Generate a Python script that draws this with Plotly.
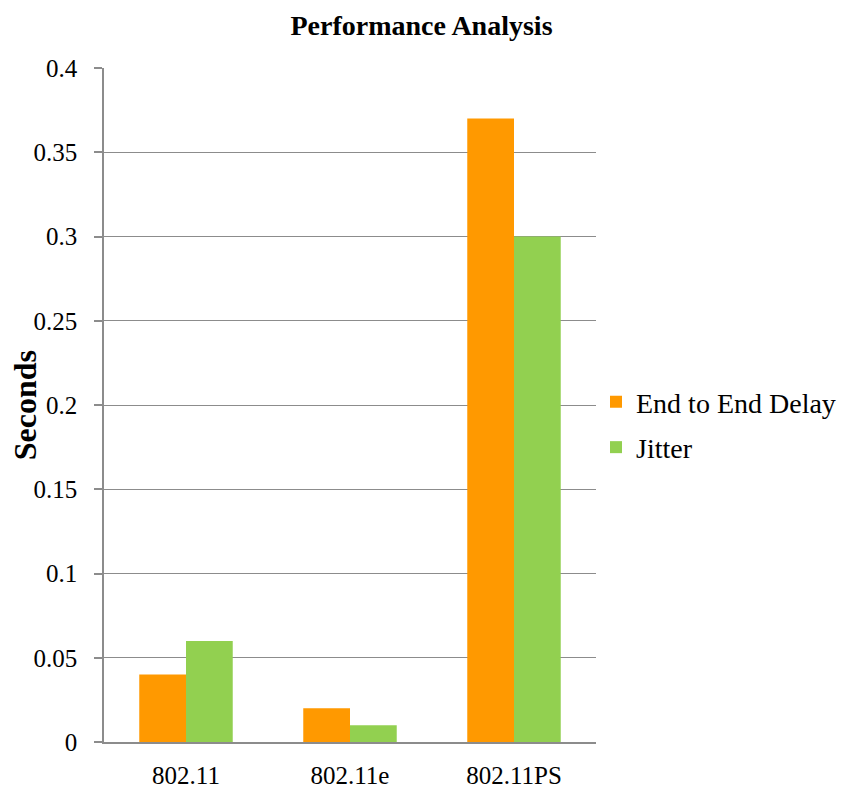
import plotly.graph_objects as go

# Protocol variants and measured timing metrics (seconds)
categories = ["802.11", "802.11e", "802.11PS"]
end_to_end_delay = [0.04, 0.02, 0.37]
jitter = [0.06, 0.01, 0.30]

SERIF = "Liberation Serif"
GRID = "#8c8c8c"

fig = go.Figure()
fig.add_trace(go.Bar(x=categories, y=end_to_end_delay, name="End to End Delay",
                     legendgroup="delay",
                     marker=dict(color="#FF9900", line=dict(width=0))))
fig.add_trace(go.Bar(x=categories, y=jitter, name="Jitter",
                     legendgroup="jitter",
                     marker=dict(color="#92D050", line=dict(width=0))))

fig.update_layout(
    width=843, height=790,
    margin=dict(l=104, r=247, t=68, b=48, autoexpand=False),
    paper_bgcolor="white", plot_bgcolor="white",
    barmode="group", bargap=0.43, bargroupgap=0,
    font=dict(family=SERIF, color="black", size=25),
    title=dict(text="<b>Performance Analysis</b>", x=0.5, xref="container",
               xanchor="center", y=1 - 25 / 790, yref="container", yanchor="middle",
               font=dict(family=SERIF, size=28, color="black")),
    legend=dict(x=1.0, y=0.471, xanchor="left", yanchor="middle",
                font=dict(family=SERIF, size=28, color="black"),
                traceorder="grouped", tracegroupgap=6,
                bgcolor="rgba(0,0,0,0)", itemclick=False),
    showlegend=True,
)

fig.update_xaxes(
    showline=True, linecolor=GRID, linewidth=1.5,
    showgrid=False, ticks="",
    tickfont=dict(family=SERIF, size=25, color="black"),
    ticklabelstandoff=10,
)
fig.update_yaxes(
    range=[0, 0.4], dtick=0.05, tick0=0,
    showline=True, linecolor=GRID, linewidth=1.5,
    showgrid=True, gridcolor=GRID, gridwidth=1.2,
    ticks="outside", ticklen=8, tickcolor=GRID, tickwidth=1.5,
    tickfont=dict(family=SERIF, size=25, color="black"), ticklabelstandoff=12,
    zeroline=False,
)

fig.add_annotation(text="<b>Seconds</b>", xref="paper", yref="paper",
                   x=-0.16, y=0.5, xanchor="center", yanchor="middle",
                   textangle=-90, showarrow=False,
                   font=dict(family=SERIF, size=32, color="black"))

fig.write_html("out.html")
